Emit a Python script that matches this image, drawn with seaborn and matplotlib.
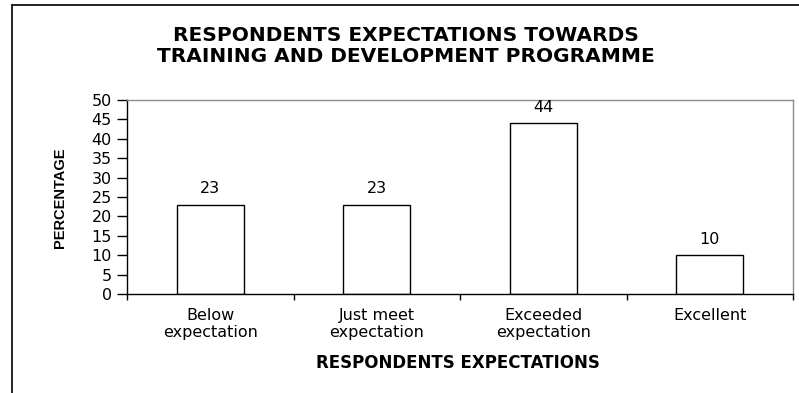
import matplotlib
matplotlib.use("Agg")
import matplotlib.pyplot as plt
import seaborn as sns
import pandas as pd
from matplotlib.lines import Line2D

categories = ["Below\nexpectation", "Just meet\nexpectation", "Exceeded\nexpectation", "Excellent"]
values = [23, 23, 44, 10]
yticks = list(range(0, 55, 5))

sns.set_theme(style="white")
plt.rcParams['font.family'] = ['DejaVu Sans']
plt.rcParams['text.color'] = 'black'
plt.rcParams['xtick.color'] = 'black'
plt.rcParams['ytick.color'] = 'black'
plt.rcParams['axes.labelcolor'] = 'black'

df = pd.DataFrame({"cat": categories, "val": values})

fig = plt.figure(figsize=(7.99, 3.93), dpi=100)
ax = fig.add_axes([127/799, 1-294/393, (793-127)/799, (294-100)/393])

sns.barplot(data=df, x="cat", y="val", ax=ax, color="white", edgecolor="black",
            linewidth=1.0, width=0.4, saturation=1)

ax.set_ylim(0, 50)
ax.set_xlim(-0.5, 3.5)
ax.set_yticks(yticks)
ax.set_yticklabels([str(t) for t in yticks], fontsize=11.5, color='black')
ax.set_xticks([-0.5, 0.5, 1.5, 2.5, 3.5])
ax.set_xticklabels([])
ax.tick_params(axis='y', direction='out', length=7, width=1, color='black', left=True, pad=4)
ax.tick_params(axis='x', direction='out', length=4, width=1, color='black', bottom=True)
for i, c in enumerate(categories):
    ax.text(i, -3.6, c, ha='center', va='top', fontsize=11.5, linespacing=1.2, color='black')

for i, v in enumerate(values):
    ax.text(i, v + 2.2, str(v), ha='center', va='bottom', fontsize=11.5, color='black')

for s in ['left', 'bottom']:
    ax.spines[s].set_color('black')
    ax.spines[s].set_linewidth(1.0)
for s in ['top', 'right']:
    ax.spines[s].set_color('#8c8c8c')
    ax.spines[s].set_linewidth(1.0)
ax.grid(False)

ax.set_xlabel("")
ax.set_ylabel("")
fig.text(458/799, 1-363/393, "RESPONDENTS EXPECTATIONS", ha='center', va='center',
         fontsize=12, fontweight='bold', color='black')
fig.text(60/799, 1-198/393, "PERCENTAGE", ha='center', va='center', rotation=90,
         fontsize=10.5, fontweight='bold', color='black', family=['Liberation Sans', 'DejaVu Sans'])

fig.text(406/799, 1-46/393, "RESPONDENTS EXPECTATIONS TOWARDS\nTRAINING AND DEVELOPMENT PROGRAMME",
         ha='center', va='center', fontsize=14.5, fontweight='bold', linespacing=1.15, color='black')

# outer frame (top and left)
fig.add_artist(Line2D([12/799, 1], [1-5/393, 1-5/393], color='black', lw=1.2, transform=fig.transFigure))
fig.add_artist(Line2D([12/799, 12/799], [0, 1-5/393], color='black', lw=1.2, transform=fig.transFigure))

fig.savefig("out.png", dpi=100)
